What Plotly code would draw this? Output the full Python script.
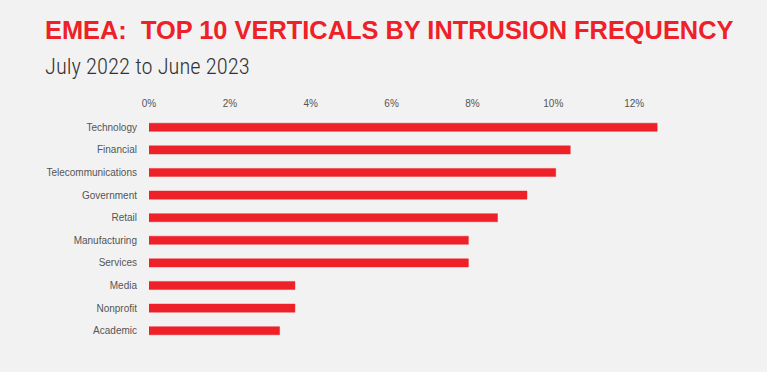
import plotly.graph_objects as go

categories = ["Technology", "Financial", "Telecommunications", "Government", "Retail",
              "Manufacturing", "Services", "Media", "Nonprofit", "Academic"]
values = [12.57, 10.42, 10.06, 9.35, 8.62, 7.90, 7.90, 3.61, 3.61, 3.23]
tick_vals = [0, 2, 4, 6, 8, 10, 12]
tick_text = ["0%", "2%", "4%", "6%", "8%", "10%", "12%"]

title_text = "EMEA:  TOP 10 VERTICALS BY INTRUSION FREQUENCY"
subtitle_text = "July 2022 to June 2023"

BG = "#f2f2f2"
RED = "#ee2028"

L, R, T, B = 149, 52, 116, 30
W, H = 767, 372

fig = go.Figure(go.Bar(
    x=values, y=categories, orientation="h",
    marker=dict(color=RED, line=dict(color="rgba(238,32,40,0.45)", width=1)),
    width=0.36,
))

plot_w = W - L - R
plot_h = H - T - B
def px_to_paper_x(px):
    return (px - L) / plot_w
def px_to_paper_y(py):
    return (H - B - py) / plot_h

fig.update_layout(
    width=W, height=H,
    paper_bgcolor=BG, plot_bgcolor=BG,
    margin=dict(l=L, r=R, t=T, b=B),
    showlegend=False,
    xaxis=dict(side="top", range=[0, 14], tickvals=tick_vals, ticktext=tick_text,
               showgrid=False, zeroline=False, showline=False,
               ticks="outside", ticklen=4, tickcolor=BG,
               tickfont=dict(family="Liberation Sans, Arial", size=10, color="#555555")),
    yaxis=dict(autorange="reversed", showgrid=False, zeroline=False, showline=False,
               ticks="outside", ticklen=9, tickcolor=BG,
               tickfont=dict(family="Liberation Sans, Arial", size=10, color="#555555")),
    annotations=[
        dict(text=title_text, xref="paper", yref="paper",
             x=px_to_paper_x(43), y=px_to_paper_y(30), showarrow=False,
             xanchor="left", yanchor="middle", align="left",
             font=dict(family="Liberation Sans, Arial", size=25.4,
                       color=RED, weight="bold")),
        dict(text=subtitle_text, xref="paper", yref="paper",
             x=px_to_paper_x(43), y=px_to_paper_y(66), showarrow=False,
             xanchor="left", yanchor="middle", align="left",
             font=dict(family="Roboto Condensed, Roboto", size=22.6,
                       color="#333333", weight=300)),
    ],
)

fig.write_html("out.html", config={"displayModeBar": False},
               post_script="document.body.style.margin='0';document.body.style.background='#f2f2f2';")
